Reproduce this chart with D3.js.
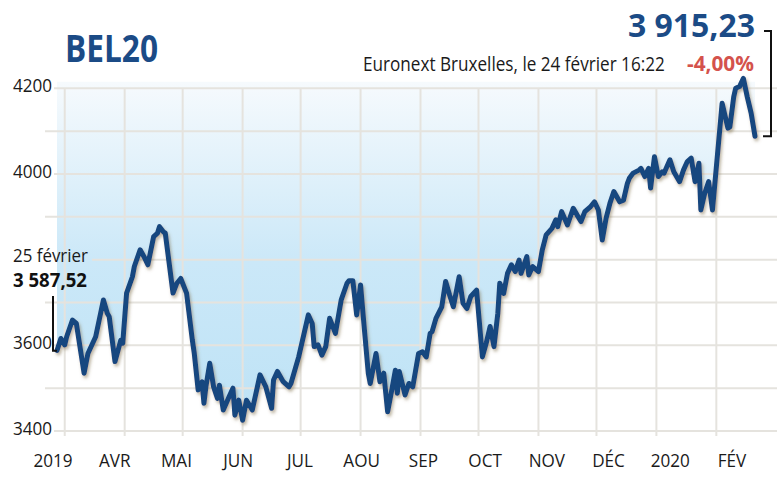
<!DOCTYPE html>
<html>
<head>
<meta charset="utf-8">
<title>BEL20</title>
<script src="https://cdn.jsdelivr.net/npm/d3@7"></script>
<style>
  body { margin: 0; background: #fff; }
  text { font-family: "Open Sans", "Noto Sans", sans-serif; }
</style>
</head>
<body>
<div id="chart"></div>
<script>
// dates and closing values
var dates = [
  "2019-02-25","2019-02-27","2019-03-01","2019-03-02","2019-03-05","2019-03-07","2019-03-11","2019-03-13",
  "2019-03-17","2019-03-21","2019-03-23","2019-03-24","2019-03-27","2019-03-30","2019-03-31","2019-04-02",
  "2019-04-05","2019-04-06","2019-04-09","2019-04-11","2019-04-13","2019-04-16","2019-04-18","2019-04-19",
  "2019-04-21","2019-04-22","2019-04-26","2019-04-28","2019-04-30","2019-05-03","2019-05-06","2019-05-07",
  "2019-05-09","2019-05-11","2019-05-12","2019-05-13","2019-05-15","2019-05-17","2019-05-19","2019-05-20",
  "2019-05-22","2019-05-25","2019-05-27","2019-05-28","2019-05-30","2019-06-01","2019-06-03","2019-06-06",
  "2019-06-10","2019-06-13","2019-06-16","2019-06-17","2019-06-19","2019-06-22","2019-06-25","2019-06-26",
  "2019-06-30","2019-07-02","2019-07-05","2019-07-07","2019-07-08","2019-07-10","2019-07-12","2019-07-14",
  "2019-07-16","2019-07-19","2019-07-22","2019-07-25","2019-07-26","2019-07-28","2019-07-30","2019-08-01",
  "2019-08-03","2019-08-05","2019-08-06","2019-08-09","2019-08-11","2019-08-13","2019-08-15","2019-08-17",
  "2019-08-19","2019-08-20","2019-08-21","2019-08-24","2019-08-26","2019-08-28","2019-08-31","2019-09-02",
  "2019-09-04","2019-09-06","2019-09-07","2019-09-09","2019-09-12","2019-09-14","2019-09-16","2019-09-18",
  "2019-09-21","2019-09-23","2019-09-25","2019-09-27","2019-09-30","2019-10-03","2019-10-05","2019-10-07",
  "2019-10-09","2019-10-11","2019-10-12","2019-10-14","2019-10-16","2019-10-18","2019-10-20","2019-10-22",
  "2019-10-23","2019-10-26","2019-10-27","2019-10-29","2019-11-01","2019-11-03","2019-11-05","2019-11-08",
  "2019-11-10","2019-11-11","2019-11-13","2019-11-16","2019-11-19","2019-11-21","2019-11-23","2019-11-25",
  "2019-11-28","2019-11-30","2019-12-02","2019-12-04","2019-12-06","2019-12-08","2019-12-10","2019-12-13",
  "2019-12-15","2019-12-17","2019-12-18","2019-12-20","2019-12-23","2019-12-24","2019-12-26","2019-12-28",
  "2019-12-29","2019-12-31","2020-01-02","2020-01-04","2020-01-05","2020-01-08","2020-01-10","2020-01-13",
  "2020-01-15","2020-01-17","2020-01-19","2020-01-21","2020-01-23","2020-01-24","2020-01-26","2020-01-28",
  "2020-01-30","2020-02-04","2020-02-07","2020-02-08","2020-02-10","2020-02-11","2020-02-13","2020-02-15",
  "2020-02-17","2020-02-19","2020-02-21"
];
var closes = [
  3588,3616,3601,3620,3659,3651,3535,3581,
  3620,3706,3675,3667,3562,3612,3605,3722,
  3760,3784,3823,3807,3788,3854,3862,3877,
  3865,3862,3722,3745,3756,3722,3612,3581,
  3496,3515,3465,3503,3558,3503,3476,3507,
  3449,3480,3500,3437,3472,3425,3472,3449,
  3531,3503,3453,3519,3539,3515,3503,3511,
  3573,3612,3671,3651,3597,3601,3577,3597,
  3663,3628,3706,3745,3751,3751,3671,3741,
  3636,3535,3511,3581,3515,3535,3445,3492,
  3542,3488,3539,3484,3511,3503,3581,3585,
  3573,3628,3632,3663,3690,3749,3718,3690,
  3760,3698,3686,3714,3729,3573,3605,3644,
  3597,3675,3745,3721,3768,3788,3772,3799,
  3768,3807,3764,3784,3772,3823,3858,3873,
  3893,3877,3912,3881,3920,3904,3889,3912,
  3924,3935,3916,3846,3897,3932,3959,3935,
  3939,3978,3990,4002,4009,4013,3994,4013,
  3967,4040,3994,4005,4002,4033,4005,3982,
  4009,4029,4037,3982,4025,3916,3955,3982,
  3916,4165,4107,4110,4180,4200,4204,4223,
  4180,4142,4088
];

var monthLabels = ["2019", "AVR", "MAI", "JUN", "JUL", "AOU", "SEP", "OCT", "NOV", "DÉC", "2020", "FÉV"];
var gridValues = [3400, 3500, 3600, 3700, 3800, 3900, 4000, 4100, 4200];
var yLabels = [3400, 3600, 4000, 4200];

var startNote = { label: "25 février", value: 3587.52 };
var lastNote = { label: "Euronext Bruxelles, le 24 février 16:22", value: 3915.23, change: -4.00 };

var W = 777, H = 489;
var parse = d3.timeParse("%Y-%m-%d");
var fr = d3.formatLocale({ decimal: ",", thousands: " ", grouping: [3], currency: ["", " €"], minus: "-" });

var data = dates.map(function(d, i) { return { date: parse(d), value: closes[i] }; });

var x = d3.scaleTime()
    .domain([parse("2019-02-25"), parse("2020-02-21")])
    .range([57, 755]);
var y = d3.scaleLinear()
    .domain([3400, 4200])
    .range([431, 88.3]);
var xl = d3.scalePoint()
    .domain(monthLabels)
    .range([53, 732]);

var svg = d3.select("#chart").append("svg")
    .attr("width", W)
    .attr("height", H);

// the original face is a condensed one: squeeze text horizontally around its anchor
function squeeze(sel, px, py, k) {
  sel.each(function(d, i) {
    var ax = typeof px === "function" ? px(d, i) : px;
    var ay = typeof py === "function" ? py(d, i) : py;
    var kk = typeof k === "function" ? k.call(this, d, i) : k;
    d3.select(this)
      .attr("x", 0).attr("y", 0)
      .attr("transform", "translate(" + ax + "," + ay + ") scale(" + kk + ",1)");
  });
}
// squeeze a text so it spans w pixels
function toWidth(w) {
  return function() { return w / this.getComputedTextLength(); };
}

var defs = svg.append("defs");
var grad = defs.append("linearGradient")
    .attr("id", "fillGrad")
    .attr("gradientUnits", "userSpaceOnUse")
    .attr("x1", 0).attr("y1", y(4215))
    .attr("x2", 0).attr("y2", y(3450));
grad.append("stop").attr("offset", "0%").attr("stop-color", "#f6fafd");
grad.append("stop").attr("offset", "55%").attr("stop-color", "#cbe8f8");
grad.append("stop").attr("offset", "100%").attr("stop-color", "#bfe3f6");

var shadow = defs.append("filter")
    .attr("id", "shadow")
    .attr("x", "-5%").attr("y", "-5%")
    .attr("width", "110%").attr("height", "115%");
shadow.append("feDropShadow")
    .attr("dx", 1.5).attr("dy", 2.5)
    .attr("stdDeviation", 1.6)
    .attr("flood-color", "#7d6c45")
    .attr("flood-opacity", 0.5);

// blue area between the top of the plot and the line
var fillTop = y(4215);
var area = d3.area()
    .x(function(d) { return x(d.date); })
    .y0(function(d) { return Math.min(fillTop, y(d.value)); })
    .y1(function(d) { return y(d.value); });

svg.append("path")
    .datum(data)
    .attr("d", area)
    .attr("fill", "url(#fillGrad)");

// grid
var grid = svg.append("g")
    .attr("stroke", "#e5e3de")
    .attr("stroke-width", 2);

grid.selectAll(".h")
  .data(gridValues)
  .enter().append("line")
    .attr("class", "h")
    .attr("x1", function(d) {
      if (yLabels.indexOf(d) >= 0) return 54;
      if (d === 3800) return 92;
      return 45;
    })
    .attr("x2", W)
    .attr("y1", function(d) { return y(d); })
    .attr("y2", function(d) { return y(d); });

grid.selectAll(".v")
  .data(d3.timeMonth.range(parse("2019-03-01"), parse("2020-02-02")))
  .enter().append("line")
    .attr("class", "v")
    .attr("x1", function(d) { return x(d); })
    .attr("x2", function(d) { return x(d); })
    .attr("y1", y(4200))
    .attr("y2", y(3400) + 5);

// line
var line = d3.line()
    .x(function(d) { return x(d.date); })
    .y(function(d) { return y(d.value); });

svg.append("path")
    .datum(data)
    .attr("d", line)
    .attr("fill", "none")
    .attr("stroke", "#16467f")
    .attr("stroke-width", 5)
    .attr("stroke-linejoin", "round")
    .attr("stroke-linecap", "round")
    .attr("filter", "url(#shadow)");

// y labels
svg.selectAll(".ylab")
  .data(yLabels)
  .enter().append("text")
    .attr("class", "ylab")
    .attr("text-anchor", "end")
    .attr("font-size", 18)
    .attr("fill", "#1a1a1a")
    .text(function(d) { return d; })
    .call(squeeze, 52, function(d) { return y(d) + 4; }, 0.95);

// x labels
svg.selectAll(".xlab")
  .data(monthLabels)
  .enter().append("text")
    .attr("class", "xlab")
    .attr("text-anchor", "middle")
    .attr("font-size", 19)
    .attr("fill", "#1a1a1a")
    .text(function(d) { return d; })
    .call(squeeze, function(d) { return xl(d); }, 467, 0.9);

// title
svg.append("text")
    .attr("font-size", 37)
    .attr("font-weight", "bold")
    .attr("fill", "#1b4b86")
    .text("BEL20")
    .call(squeeze, 65, 62, toWidth(93));

// last value block
svg.append("text")
    .attr("font-size", 33)
    .attr("font-weight", "bold")
    .attr("fill", "#1b4b86")
    .text(fr.format(",.2f")(lastNote.value))
    .call(squeeze, 628, 37, toWidth(127));

svg.append("text")
    .attr("font-size", 21)
    .attr("font-weight", "bold")
    .attr("fill", "#d4524c")
    .text(fr.format("+.2f")(lastNote.change) + "%")
    .call(squeeze, 687, 71, toWidth(67));

svg.append("text")
    .attr("font-size", 20)
    .attr("fill", "#1a1a1a")
    .text(lastNote.label)
    .call(squeeze, 363, 71, toWidth(302));

var last = data[data.length - 1];
svg.append("path")
    .attr("d", "M764,31H771V" + y(last.value) + "H763")
    .attr("fill", "none")
    .attr("stroke", "#111")
    .attr("stroke-width", 2);

// start value block
svg.append("text")
    .attr("font-size", 19)
    .attr("fill", "#1a1a1a")
    .text(startNote.label)
    .call(squeeze, 13, 262, toWidth(75));

svg.append("text")
    .attr("font-size", 19)
    .attr("font-weight", "bold")
    .attr("fill", "#111")
    .text(fr.format(",.2f")(startNote.value))
    .call(squeeze, 13, 287, toWidth(74));

svg.append("path")
    .attr("d", "M53,296V" + y(startNote.value) + "H57")
    .attr("fill", "none")
    .attr("stroke", "#111")
    .attr("stroke-width", 2);
</script>
</body>
</html>
